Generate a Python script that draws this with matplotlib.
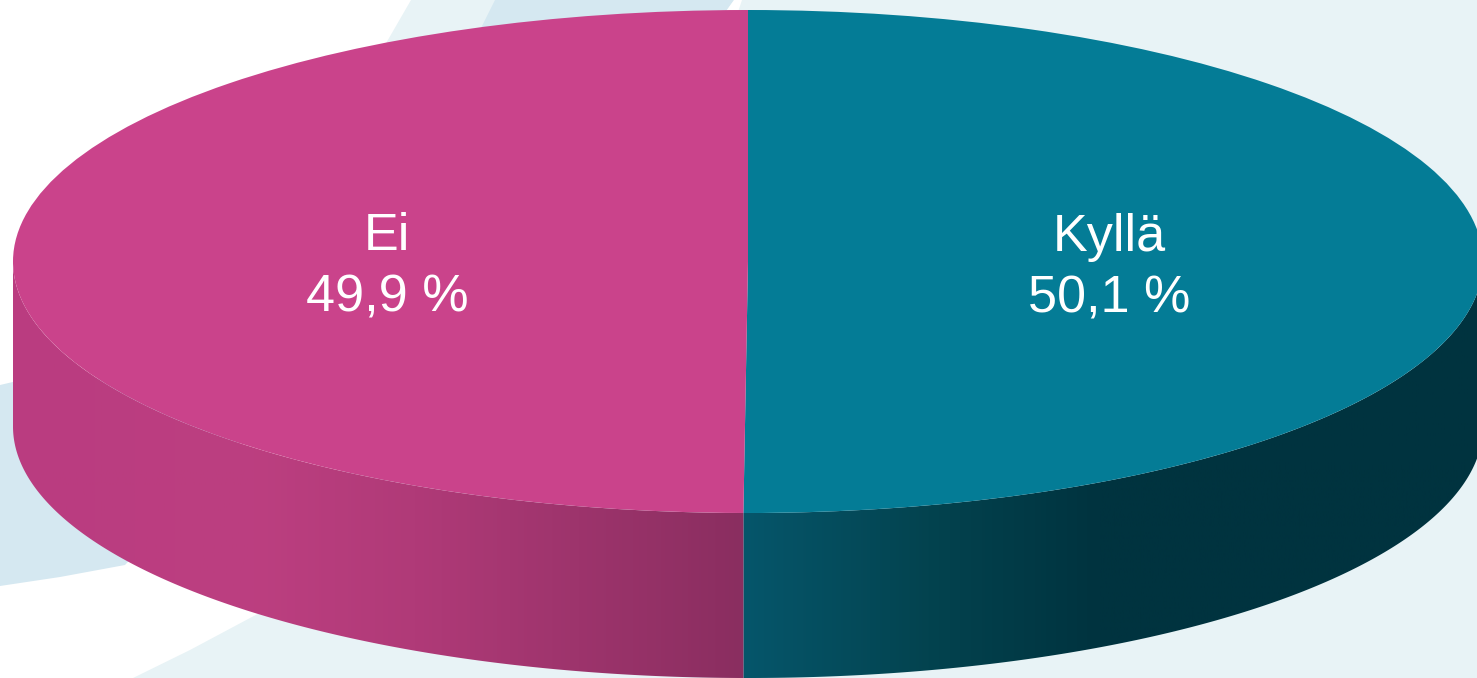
import numpy as np
import matplotlib
matplotlib.use("Agg")
import matplotlib.pyplot as plt
from matplotlib.colors import LinearSegmentedColormap
from matplotlib.patches import Polygon

# ---------- data ----------
categories = ["Kyllä", "Ei"]
shares = [50.1, 49.9]

# ---------- style ----------
plt.rcParams["font.family"] = ["Liberation Sans", "DejaVu Sans"]
W, H = 1477, 678
CX, CY, RX, RY = 748, 261.5, 735, 251.5  # top ellipse in pixels
DEPTH = 165 / RY
C_TOP = ["#047C96", "#CA438B"]
C_BG = "#E8F3F6"
C_SWOOSH = "#D5E8F1"
# wall shading, left to right, per slice
WALLS = [[(0, "#06566B"), (0.25, "#03434F"), (0.48, "#00333F"), (1, "#00333F")],
         [(0, "#BA3C80"), (0.33, "#BC3F80"), (0.55, "#B03A78"), (1, "#8A2E60")]]

fig = plt.figure(figsize=(W / 100, H / 100), dpi=100)

# ---------- background swooshes (pixel coords) ----------
bg = fig.add_axes([0, 0, 1, 1])
bg.set_xlim(0, W); bg.set_ylim(H, 0); bg.axis("off")
bg.add_patch(Polygon([(0, 0), (W, 0), (W, H), (0, H)], fc=C_BG, ec="none"))
bg.add_patch(Polygon([(0, 0), (411, 0), (385, 45), (300, 300), (360, 560), (250, 618),
                      (190, 650), (133, 678), (0, 678)], fc="white", ec="none"))
bg.add_patch(Polygon([(495, 0), (734, 0), (724, 14), (480, 30)], fc=C_SWOOSH, ec="none"))
bg.add_patch(Polygon([(734, 0), (742, 0), (738, 12), (724, 14)], fc="white", ec="none"))
bg.add_patch(Polygon([(0, 385), (30, 378), (300, 380), (125, 565), (60, 577), (0, 586)],
                     fc=C_SWOOSH, ec="none"))

# ---------- pie ----------
ax = fig.add_axes([0, 0, 1, 1])
ax.patch.set_alpha(0)
labels = [f"{c}\n{v:.1f} %".replace(".", ",") for c, v in zip(categories, shares)]
wedges, texts = ax.pie(shares, labels=labels, colors=C_TOP, startangle=90, counterclock=False,
                       labeldistance=0.491,
                       textprops=dict(color="white", fontsize=37.5, ha="center", va="center",
                                      linespacing=1.33))
ax.set_aspect("auto")
for txt in texts:
    x0, y0 = txt.get_position()
    txt.set_position((x0, y0 - 6 / RY))  # labels sit a bit under the ellipse centre

# side wall of each slice, only the part facing the viewer
for wedge, shades in zip(wedges, WALLS):
    t1, t2 = max(wedge.theta1, -180), min(wedge.theta2, 0)
    t = np.radians(np.linspace(t1, t2, 200))
    xs = np.r_[np.cos(t), np.cos(t[::-1])]
    ys = np.r_[np.sin(t), np.sin(t[::-1]) - DEPTH]
    clip = Polygon(np.column_stack([xs, ys]), closed=True, transform=ax.transData,
                   fc="none", ec="none")
    ax.add_patch(clip)
    cmap = LinearSegmentedColormap.from_list("wall", shades)
    im = ax.imshow(np.linspace(0, 1, 256)[None, :], cmap=cmap, aspect="auto",
                   extent=(xs.min(), xs.max(), ys.min(), ys.max()), zorder=0.5)
    im.set_clip_path(clip)

ax.set_xlim((0 - CX) / RX, (W - CX) / RX)
ax.set_ylim((CY - H) / RY, CY / RY)

fig.savefig("out.png", dpi=100)
